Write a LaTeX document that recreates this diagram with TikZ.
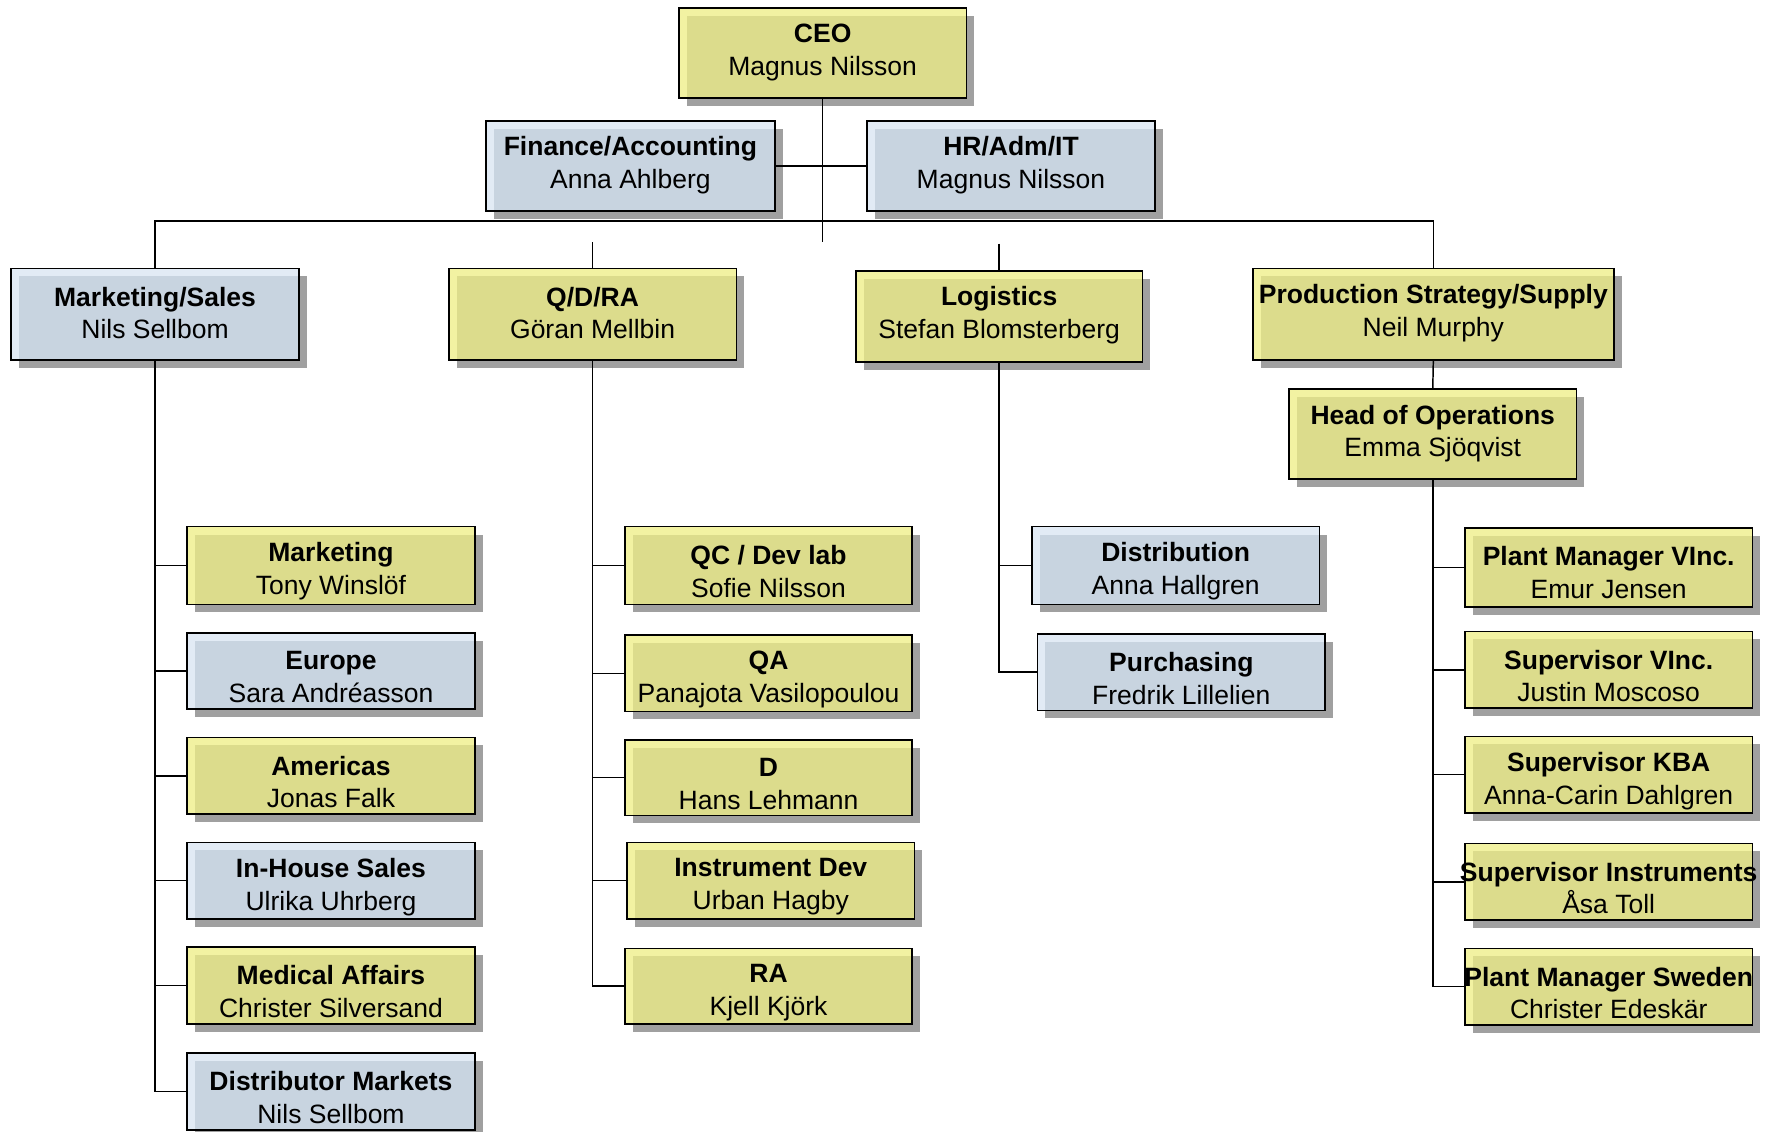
\documentclass[tikz,border=0pt]{standalone}
\usepackage{fontspec}
\setmainfont{Liberation Sans}
\definecolor{ydark}{RGB}{220,220,140}
\definecolor{ylight}{RGB}{242,242,162}
\definecolor{bdark}{RGB}{200,212,224}
\definecolor{blight}{RGB}{226,235,245}
\definecolor{shadowc}{RGB}{160,160,160}
\tikzset{
  orgbox/.style={draw=black, line width=1.5bp, inner sep=0pt, outer sep=0pt},
  orgtext/.style={inner sep=0pt, align=center, font=\fontsize{23.5bp}{29bp}\selectfont},
  ybox/.style={orgbox, fill=ydark, path picture={
    \fill[ylight] (path picture bounding box.north west) rectangle ([yshift=-7bp]path picture bounding box.north east);
    \fill[ylight] (path picture bounding box.north west) rectangle ([xshift=7bp]path picture bounding box.south west);}},
  bbox/.style={orgbox, fill=bdark, path picture={
    \fill[blight] (path picture bounding box.north west) rectangle ([yshift=-7bp]path picture bounding box.north east);
    \fill[blight] (path picture bounding box.north west) rectangle ([xshift=7bp]path picture bounding box.south west);}},
  conn/.style={draw=black, line width=1.3bp}
}
\newcommand\obox[8]{%
  \pgfmathsetmacro\oBw{#4-#2}\pgfmathsetmacro\oBh{#5-#3}%
  \pgfmathsetmacro\oBx{(#2+#4)/2}\pgfmathsetmacro\oBy{(#3+#5)/2}%
  \pgfmathsetmacro\oBt{#3+39.5}%
  \fill[shadowc] (#2+7,#3+7) rectangle (#4+7,#5+7);
  \node[#6, minimum width=\oBw bp, minimum height=\oBh bp] (#1) at (\oBx,\oBy) {};
  \node[orgtext] (#1-text) at (\oBx,\oBt)
    {\makebox[0pt][c]{\textbf{#7}}\\\makebox[0pt][c]{#8}};
}
\begin{document}
\begin{tikzpicture}[x=1bp,y=-1bp]
\useasboundingbox (0,0) rectangle (1566,1003);
\fill[white] (0,0) rectangle (1566,1003);
% top
\obox{ceo}{602}{7}{857}{87}{ybox}{CEO}{Magnus Nilsson}
\obox{fin}{431}{107}{687}{187}{bbox}{Finance/Accounting}{Anna Ahlberg}
\obox{hr}{769}{107}{1024}{187}{bbox}{HR/Adm/IT}{Magnus Nilsson}
% second level
\obox{ms}{10}{238}{265}{319}{bbox}{Marketing/Sales}{Nils Sellbom}
\obox{qdra}{398}{238}{653}{319}{ybox}{Q/D/RA}{Göran Mellbin}
\obox{logi}{759}{240}{1013}{321}{ybox}{Logistics}{Stefan Blomsterberg}
\obox{pss}{1111}{238}{1431}{319}{ybox}{Production Strategy/Supply}{Neil Murphy}
\obox{hoo}{1143}{345}{1398}{425}{ybox}{Head of Operations}{Emma Sjöqvist}
% marketing column
\obox{mkt}{166}{467}{421}{536}{ybox}{Marketing}{Tony Winslöf}
\obox{eur}{166}{561}{421}{629}{bbox}{Europe}{Sara Andréasson}
\obox{ame}{166}{654}{421}{722}{ybox}{Americas}{Jonas Falk}
\obox{ihs}{166}{747}{421}{815}{bbox}{In-House Sales}{Ulrika Uhrberg}
\obox{med}{166}{840}{421}{908}{ybox}{Medical Affairs}{Christer Silversand}
\obox{dm}{166}{934}{421}{1002}{bbox}{Distributor Markets}{Nils Sellbom}
% Q/D/RA column
\obox{qc}{554}{467}{809}{536}{ybox}{QC / Dev lab}{Sofie Nilsson}
\obox{qa}{554}{563}{809}{631}{ybox}{QA}{Panajota Vasilopoulou}
\obox{dd}{554}{656}{809}{723}{ybox}{D}{Hans Lehmann}
\obox{idev}{556}{747}{811}{815}{ybox}{Instrument Dev}{Urban Hagby}
\obox{ra}{554}{841}{809}{908}{ybox}{RA}{Kjell Kjörk}
% logistics column
\obox{dist}{915}{467}{1170}{536}{bbox}{Distribution}{Anna Hallgren}
\obox{purch}{920}{562}{1175}{630}{bbox}{Purchasing}{Fredrik Lillelien}
% production column
\obox{pmv}{1299}{468}{1554}{538}{ybox}{Plant Manager VInc.}{Emur Jensen}
\obox{svi}{1299}{560}{1554}{628}{ybox}{Supervisor VInc.}{Justin Moscoso}
\obox{skba}{1299}{653}{1554}{721}{ybox}{Supervisor KBA}{Anna-Carin Dahlgren}
\obox{sins}{1299}{748}{1554}{816}{ybox}{Supervisor Instruments}{Åsa Toll}
\obox{pms}{1299}{841}{1554}{909}{ybox}{Plant Manager Sweden}{Christer Edeskär}
% connectors
\coordinate (ceoend) at (729.5,215);
\coordinate (tl) at (137.5,196);
\coordinate (tr) at (1271,196);
\coordinate (qstub) at (525.5,215);
\coordinate (lstub) at (886,216);
\draw[conn] (ceo.south) -- (ceoend);
\draw[conn] (fin.east) -- (hr.west);
\draw[conn] (ms.north) -- (tl) -- (tr) -- (pss.north);
\draw[conn] (qstub) -- (qdra.north);
\draw[conn] (lstub) -- (logi.north);
\foreach \c in {mkt,eur,ame,ihs,med,dm} \draw[conn] (ms.south) |- (\c.west);
\foreach \c in {qc,qa,dd,idev,ra} \draw[conn] (qdra.south) |- (\c.west);
\foreach \c in {dist,purch} \draw[conn] (logi.south) |- (\c.west);
\draw[conn] (pss.south) -- (hoo.north);
\foreach \c in {pmv,svi,skba,sins,pms} \draw[conn] (hoo.south) |- (\c.west);
\end{tikzpicture}
\end{document}
